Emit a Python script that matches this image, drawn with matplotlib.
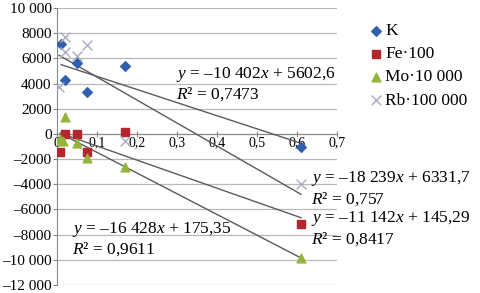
import matplotlib
matplotlib.use("Agg")
import matplotlib.pyplot as plt
import numpy as np

plt.rcParams['font.family'] = ['Liberation Serif', 'DejaVu Serif']
plt.rcParams['mathtext.fontset'] = 'custom'
plt.rcParams['mathtext.rm'] = 'Liberation Serif'
plt.rcParams['mathtext.it'] = 'Liberation Serif:italic'

# data
k_x = [0.01, 0.02, 0.05, 0.075, 0.17, 0.61]
k_y = [7150, 4250, 5650, 3350, 5350, -1030]
fe_x = [0.008, 0.02, 0.05, 0.075, 0.17, 0.61]
fe_y = [-1400, 0, 0, -1400, 150, -7150]
mo_x = [0.008, 0.015, 0.02, 0.05, 0.075, 0.17, 0.61]
mo_y = [-400, -600, 1350, -700, -1900, -2600, -9850]
rb_x = [0.005, 0.02, 0.02, 0.05, 0.075, 0.17, 0.61]
rb_y = [3700, 7700, 6500, 6200, 7050, -600, -3950]

labels = ['K', 'Fe\u00b7100', 'Mo\u00b710 000', 'Rb\u00b7100 000']
# trendline coefficients (slope, intercept) as printed
k_fit = (-10402, 5602.6)
fe_fit = (-11142, 145.29)
mo_fit = (-16428, 175.35)
rb_fit = (-18239, 6331.7)

eq_texts = [
    ("$y$ = \u201310 402$x$ + 5602,6", "$R$\u00b2 = 0,7473"),
    ("$y$ = \u201318 239$x$ + 6331,7", "$R$\u00b2 = 0,757"),
    ("$y$ = \u201311 142$x$ + 145,29", "$R$\u00b2 = 0,8417"),
    ("$y$ = \u201316 428$x$ + 175,35", "$R$\u00b2 = 0,9611"),
]

yticks = [-12000, -10000, -8000, -6000, -4000, -2000, 0, 2000, 4000, 6000, 8000, 10000]
ytick_labels = ['\u201312 000', '\u201310 000', '\u20138000', '\u20136000', '\u20134000',
                '\u20132000', '0', '2000', '4000', '6000', '8000', '10 000']
xticks = [0, 0.1, 0.2, 0.3, 0.4, 0.5, 0.6, 0.7]
xtick_labels = ['0', '0,1', '0,2', '0,3', '0,4', '0,5', '0,6', '0,7']

fig = plt.figure(figsize=(4.8, 2.93), dpi=100)
ax = fig.add_axes([0.119, 0.027, 0.583, 0.946])
ax.set_xlim(0, 0.7)
ax.set_ylim(-12000, 10000)

for yv in yticks:
    ax.axhline(yv, color='#b8b8b8', lw=0.9, zorder=0)

line_col = '#5a5a5a'
for xs, fit in [(k_x, k_fit), (rb_x, rb_fit), (fe_x, fe_fit), (mo_x, mo_fit)]:
    xx = np.array([min(xs), max(xs)])
    ax.plot(xx, fit[0] * xx + fit[1], color=line_col, lw=1.0, zorder=2)

s1 = ax.scatter(k_x, k_y, marker='D', s=24, color='#2f5fae', zorder=3, label=labels[0])
s2 = ax.scatter(fe_x, fe_y, marker='s', s=40, color='#b3262e', zorder=3, label=labels[1])
s3 = ax.scatter(mo_x, mo_y, marker='^', s=40, color='#94b53a', zorder=3, label=labels[2])
s4 = ax.scatter(rb_x, rb_y, marker='x', s=50, color='#aeb0c4', lw=1.1, zorder=3, label=labels[3])

ax.set_yticks(yticks)
ax.set_yticklabels(ytick_labels, fontsize=11)
ax.set_xticks(xticks)
ax.set_xticklabels(xtick_labels, fontsize=7)
ax.tick_params(axis='y', length=3, width=0.8, color='#888888', pad=1)
ax.tick_params(axis='x', direction='inout', length=4, width=0.8, color='#888888', pad=0)

for sp in ['top', 'right']:
    ax.spines[sp].set_visible(False)
ax.spines['bottom'].set_position(('data', 0))
ax.spines['bottom'].set_color('#888888')
ax.spines['left'].set_color('#888888')
ax.spines['bottom'].set_zorder(1)

fs = 12.5
ax.text(0.298, 4750, eq_texts[0][0], fontsize=fs, va='center')
ax.text(0.298, 3150, eq_texts[0][1], fontsize=fs, va='center')
ax.text(0.636, -3520, eq_texts[1][0], fontsize=fs, va='center', clip_on=False)
ax.text(0.636, -5160, eq_texts[1][1], fontsize=fs, va='center', clip_on=False)
ax.text(0.636, -6680, eq_texts[2][0], fontsize=fs, va='center', clip_on=False)
ax.text(0.636, -8380, eq_texts[2][1], fontsize=fs, va='center', clip_on=False)
ax.text(0.037, -7620, eq_texts[3][0], fontsize=fs, va='center')
ax.text(0.037, -9180, eq_texts[3][1], fontsize=fs, va='center')

leg = fig.legend(handles=[s1, s2, s3, s4], loc='upper left', bbox_to_anchor=(0.755, 0.945),
                 frameon=False, fontsize=12.5, handletextpad=0.1, labelspacing=0.4,
                 handlelength=0.8, borderaxespad=0)

fig.savefig('out.png', dpi=100)
